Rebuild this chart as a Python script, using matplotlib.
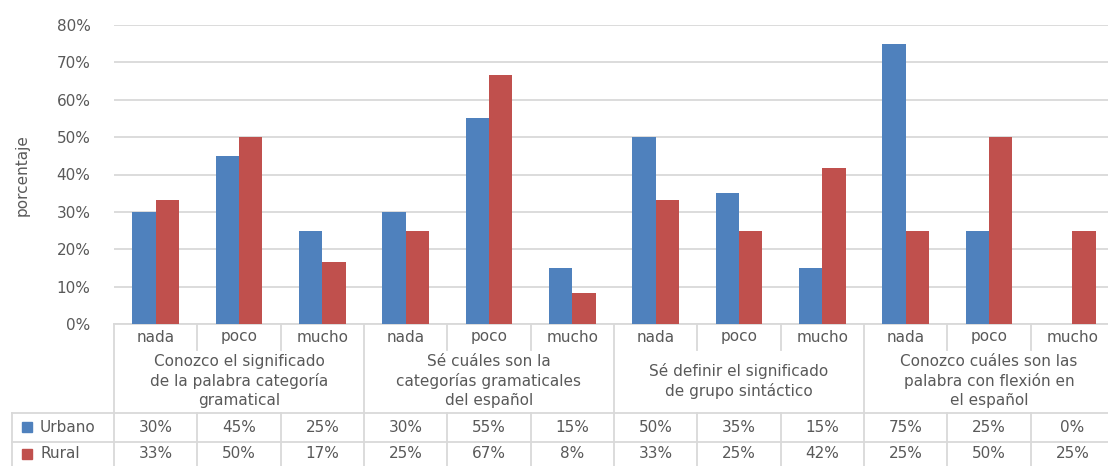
import matplotlib
matplotlib.use('Agg')

import matplotlib.pyplot as plt
from matplotlib.ticker import PercentFormatter, MultipleLocator
from matplotlib.transforms import blended_transform_factory
from matplotlib.lines import Line2D
from matplotlib.patches import Rectangle
import numpy as np

# datos de la encuesta (porcentaje)
niveles = ['nada', 'poco', 'mucho'] * 4
preguntas = [
    'Conozco el significado\nde la palabra categoría\ngramatical',
    'Sé cuáles son la\ncategorías gramaticales\ndel español',
    'Sé definir el significado\nde grupo sintáctico',
    'Conozco cuáles son las\npalabra con flexión en\nel español',
]
urbano = [30, 45, 25, 30, 55, 15, 50, 35, 15, 75, 25, 0]
rural = [33.3, 50, 16.7, 25, 66.7, 8.3, 33.3, 25, 41.7, 25, 50, 25]
series = [('Urbano', urbano), ('Rural', rural)]

azul = '#4F81BD'
rojo = '#C0504D'
gris = '#595959'
linea = '#D9D9D9'
fs = 11

W, H = 1108, 466
fig = plt.figure(figsize=(W / 100, H / 100), dpi=100)
ax = fig.add_axes([114 / W, (H - 324) / H, 1000 / W, 299 / H])

x = np.arange(len(niveles))
ancho = 0.28
ax.bar(x - ancho / 2, urbano, ancho, color=azul, zorder=3)
ax.bar(x + ancho / 2, rural, ancho, color=rojo, zorder=3)

ax.set_ylim(0, 80)
ax.yaxis.set_major_locator(MultipleLocator(10))
ax.yaxis.set_major_formatter(PercentFormatter(100, decimals=0))
ax.grid(axis='y', color=linea, lw=1.3)
ax.set_axisbelow(True)
for lado in ['top', 'right', 'left']:
    ax.spines[lado].set_visible(False)
ax.spines['bottom'].set_color(linea)
ax.spines['bottom'].set_linewidth(1.3)
ax.set_xticks([])
ax.tick_params(axis='y', length=0, pad=17, labelcolor=gris, labelsize=fs)

fig.text(22 / W, 1 - 175 / H, 'porcentaje', rotation=90, color=gris,
         fontsize=fs, ha='center', va='center')


# tabla de datos bajo el eje
def fy(py):
    return 1 - py / H


tr = blended_transform_factory(ax.transData, fig.transFigure)

for b in np.arange(-0.5, len(niveles)):
    if (b + 0.5) % 3 == 0 or b == len(niveles) - 0.5:
        ax.add_line(Line2D([b, b], [fy(324), fy(470)], transform=tr,
                           color=linea, lw=1.3, clip_on=False))
    else:
        ax.add_line(Line2D([b, b], [fy(324), fy(350)], transform=tr,
                           color=linea, lw=1.3, clip_on=False))
        ax.add_line(Line2D([b, b], [fy(413), fy(470)], transform=tr,
                           color=linea, lw=1.3, clip_on=False))

for py in [413, 442]:
    fig.add_artist(Line2D([12 / W, 1], [fy(py), fy(py)], color=linea, lw=1.3))
fig.add_artist(Line2D([12 / W, 12 / W], [fy(413), fy(470)], color=linea, lw=1.3))

for i, n in enumerate(niveles):
    ax.text(i, fy(337), n, transform=tr, ha='center', va='center',
            color=gris, fontsize=fs)

for g, p in enumerate(preguntas):
    ax.text(3 * g + 1, fy(381), p, transform=tr, ha='center', va='center',
            multialignment='center', linespacing=1.3, color=gris, fontsize=fs)

for (nombre, valores), color, py in zip(series, [azul, rojo], [427, 454]):
    fig.add_artist(Rectangle((22 / W, fy(py + 5)), 10 / W, 10 / H,
                             color=color, transform=fig.transFigure))
    fig.text(40 / W, fy(py), nombre, ha='left', va='center',
             color=gris, fontsize=fs)
    for i, v in enumerate(valores):
        ax.text(i, fy(py), f'{v:.0f}%', transform=tr, ha='center',
                va='center', color=gris, fontsize=fs)

ax.set_xlim(-0.5, len(niveles) - 0.5)

plt.savefig('out.png', dpi=100)
plt.close()
